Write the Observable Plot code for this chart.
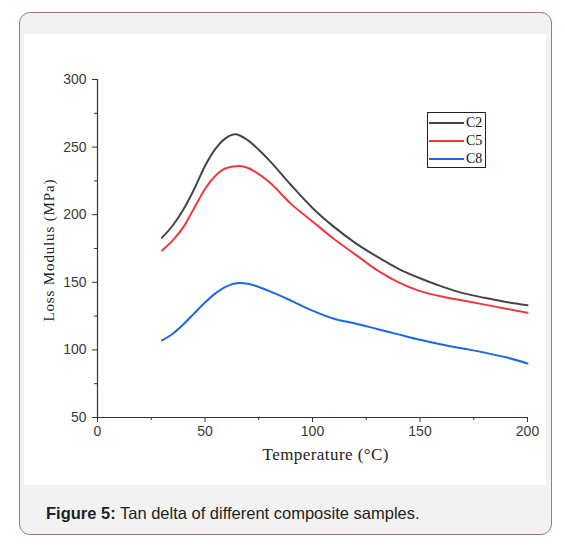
<!DOCTYPE html>
<html>
<head>
<meta charset="utf-8">
<script src="https://cdn.jsdelivr.net/npm/d3@7"></script>
<script src="https://cdn.jsdelivr.net/npm/@observablehq/plot@0.6"></script>
<style>
  html, body { margin: 0; padding: 0; background: #fff; }
  #card { position: absolute; left: 19px; top: 12px; width: 531px; height: 521px;
          border: 1px solid #a87570; border-radius: 11px; background: #f2f2f2; }
  #plotbox { position: absolute; left: 24px; top: 34px; width: 522px; height: 451px; background: #fff; }
  #plotbox svg { display: block; }
  #legend { position: absolute; left: 427px; top: 112px; width: 57px; height: 54px;
            border: 1px solid #222; background: #fff; font-family: "Liberation Serif", "Times New Roman", serif; font-size: 14px; color: #111; }
  .li { position: absolute; left: 1px; height: 18px; width: 60px; }
  .li span.sw { position: absolute; left: 0; top: 8px; width: 35px; height: 2px; }
  .li span.lb { position: absolute; left: 37px; top: 0px; line-height: 18px; }
  #caption { position: absolute; left: 46px; top: 503px; line-height: 20px; font-family: "Liberation Sans", Arial, sans-serif; font-size: 16.5px; color: #222; }
</style>
</head>
<body>
<div id="card"></div>
<div id="plotbox"></div>
<div id="legend"></div>
<div id="caption"><b>Figure 5:</b> Tan delta of different composite samples.</div>
<script>
// Data
const seriesNames = ["C2", "C5", "C8"];
const seriesColors = ["#454545", "#f0393b", "#1b68e0"];

const c2Temp = [30, 35, 40, 45, 50, 55, 60, 64, 70, 75, 80, 90, 100, 110, 120, 130, 140, 150, 160, 170, 180, 190, 200];
const c2Val  = [183, 192, 204, 219, 236, 249, 257, 259.5, 255, 248, 240, 222, 205, 191, 179, 169, 160, 153, 147, 142, 138.5, 135.5, 133];

const c5Temp = [30, 35, 40, 45, 50, 55, 60, 66, 70, 75, 80, 90, 100, 110, 120, 130, 140, 150, 160, 170, 180, 190, 200];
const c5Val  = [173.5, 181, 191, 205, 219, 229, 234.5, 236, 234.5, 230, 224, 208, 195, 182, 170.5, 159, 150, 143.5, 139.5, 136.5, 133.5, 130.5, 127.5];

const c8Temp = [30, 35, 40, 45, 50, 55, 60, 66, 70, 75, 80, 90, 100, 110, 120, 130, 140, 150, 160, 170, 180, 190, 200];
const c8Val  = [107, 112, 119, 127, 135, 142, 147, 149.5, 149, 146.5, 143.5, 136.5, 129, 123, 119.5, 115.5, 111.5, 107.5, 104, 101, 98, 94.5, 90];

const xMajor = [0, 50, 100, 150, 200];
const xMinor = [25, 75, 125, 175];
const yMajor = [50, 100, 150, 200, 250, 300];
const yMinor = [75, 125, 175, 225, 275];

const xTitle = "Temperature (°C)";
const yTitle = "Loss Modulus (MPa)";

const rows = [];
[[c2Temp, c2Val], [c5Temp, c5Val], [c8Temp, c8Val]].forEach(([t, v], i) => {
  t.forEach((x, j) => rows.push({series: seriesNames[i], temp: x, val: v[j]}));
});

const serif = "Liberation Serif, Times New Roman, serif";
const sans = "Liberation Sans, Arial, sans-serif";

const chart = Plot.plot({
  width: 522,
  height: 451,
  marginLeft: 73,
  marginRight: 19,
  marginTop: 45,
  marginBottom: 68,
  style: {background: "transparent", fontFamily: sans, fontSize: "14px", color: "#333"},
  x: {domain: [0, 200], axis: null},
  y: {domain: [50, 300], axis: null},
  color: {domain: seriesNames, range: seriesColors},
  marks: [
    Plot.axisX({ticks: xMajor, tickSize: 5, tickPadding: 4, stroke: "#333", fill: "#3a3a3a", fontSize: 14, label: null, tickFormat: d => String(d)}),
    Plot.axisX({ticks: xMinor, tickSize: 3, text: null, stroke: "#333", label: null}),
    Plot.axisY({ticks: yMajor, tickSize: 5, tickPadding: 6, stroke: "#333", fill: "#3a3a3a", fontSize: 14, label: null, tickFormat: d => String(d)}),
    Plot.axisY({ticks: yMinor, tickSize: 3, text: null, stroke: "#333", label: null}),
    Plot.ruleY([50], {stroke: "#333", strokeWidth: 1.2}),
    Plot.ruleX([0], {y1: 50, y2: 300, stroke: "#333", strokeWidth: 1.2}),
    Plot.line(rows, {x: "temp", y: "val", z: "series", stroke: "series", strokeWidth: 2, curve: "monotone-x"}),
    Plot.text([xTitle], {frameAnchor: "bottom", dy: 42, dx: 13, fontFamily: serif, fontSize: 17, fill: "#222"}),
    Plot.text([yTitle], {frameAnchor: "left", textAnchor: "middle", dx: -48, dy: 2, rotate: -90, fontFamily: serif, fontSize: 15, fill: "#222"})
  ]
});
document.getElementById("plotbox").appendChild(chart);

d3.select(chart).selectAll("text")
  .filter(function() { return this.textContent === xTitle; })
  .attr("textLength", 126).attr("lengthAdjust", "spacing");
d3.select(chart).selectAll("text")
  .filter(function() { return this.textContent === yTitle; })
  .attr("textLength", 142).attr("lengthAdjust", "spacing");

const leg = document.getElementById("legend");
seriesNames.forEach((n, i) => {
  const d = document.createElement("div");
  d.className = "li";
  d.style.top = (1 + i * 18) + "px";
  d.innerHTML = `<span class="sw" style="background:${seriesColors[i]}"></span><span class="lb">${n}</span>`;
  leg.appendChild(d);
});
</script>
</body>
</html>
